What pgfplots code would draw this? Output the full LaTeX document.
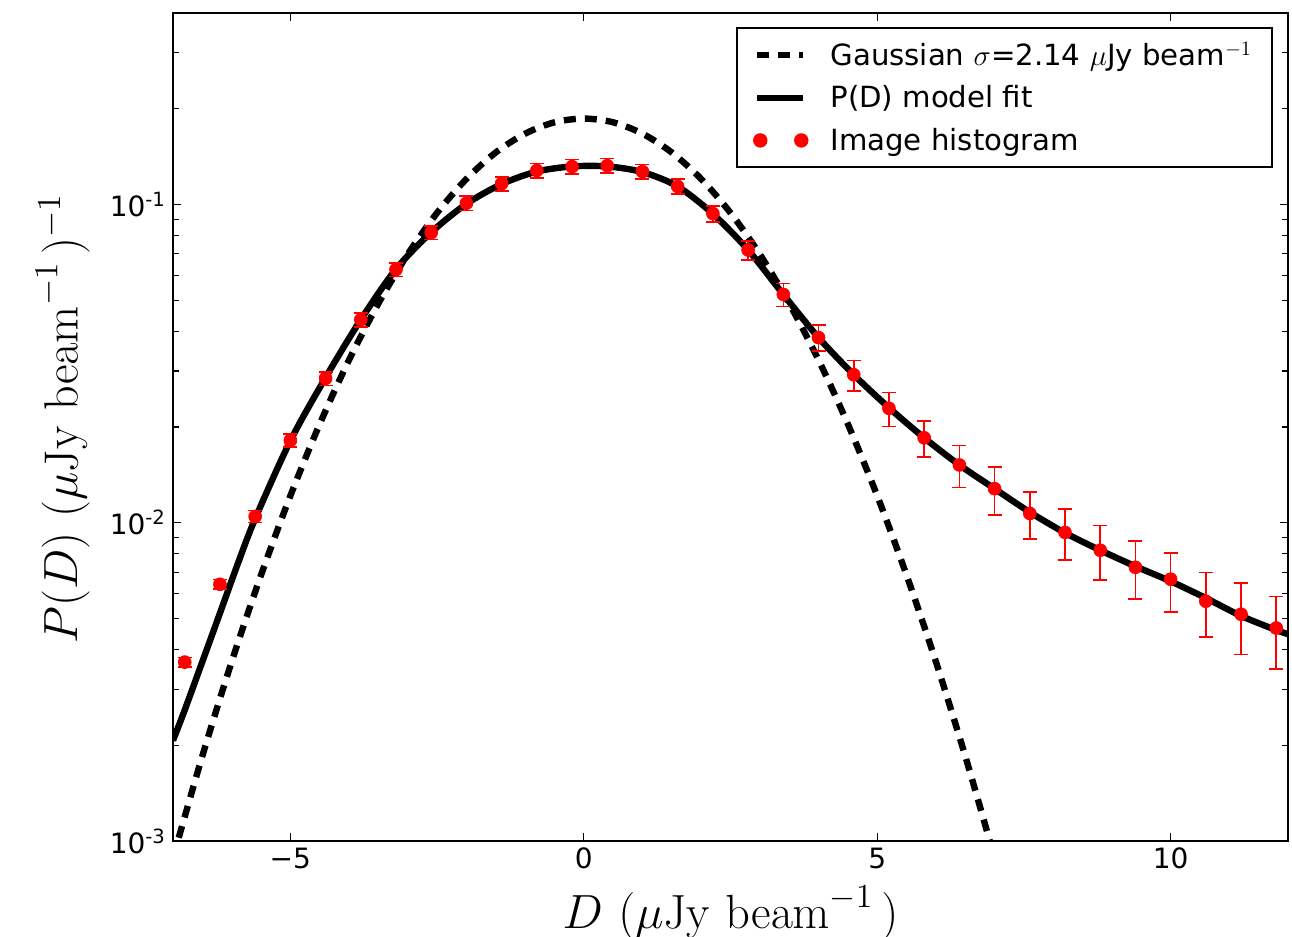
\RequirePackage{fix-cm}
\documentclass[border=0pt]{standalone}
\usepackage[no-math]{fontspec}
\setmainfont{DejaVu Sans}
\usepackage{pgfplots}
\pgfplotsset{compat=1.18}

% image histogram: D, P(D), error
\pgfplotstableread{
x     y        e
-6.8  0.00365  0.00012
-6.2  0.00641  0.00022
-5.6  0.01047  0.00046
-5.0  0.01815  0.00085
-4.4  0.02844  0.0014
-3.8  0.0435   0.0022
-3.2  0.0625   0.0031
-2.6  0.0817   0.0041
-2.0  0.1010   0.0053
-1.4  0.1164   0.0059
-0.8  0.1280   0.0066
-0.2  0.1316   0.0068
 0.4  0.1325   0.0069
 1.0  0.1270   0.0066
 1.6  0.1140   0.0062
 2.2  0.0937   0.0054
 2.8  0.0720   0.0050
 3.4  0.0522   0.0043
 4.0  0.0382   0.0036
 4.6  0.0292   0.0032
 5.2  0.0229   0.0028
 5.8  0.0185   0.0024
 6.4  0.0152   0.0023
 7.0  0.0128   0.0022
 7.6  0.0107   0.0018
 8.2  0.00933  0.0017
 8.8  0.0082   0.0016
 9.4  0.00725  0.0015
10.0  0.00665  0.0014
10.6  0.00567  0.0013
11.2  0.00516  0.0013
11.8  0.00467  0.0012
}\histo

\begin{document}
\begin{tikzpicture}
\useasboundingbox (-86.5pt,-48pt) rectangle (559.5pt,420.5pt);
\begin{axis}[
    scale only axis,
    width=557.5pt, height=414pt,
    ymode=log,
    xmin=-7, xmax=12, ymin=0.001, ymax=0.4,
    xtick={-5,0,5,10}, xticklabels={−5,0,5,10},
    ytick={0.001,0.01,0.1},
    yticklabels={10\textsuperscript{-3},10\textsuperscript{-2},10\textsuperscript{-1}},
    minor ytick={0.002,0.003,0.004,0.005,0.006,0.007,0.008,0.009,
                 0.02,0.03,0.04,0.05,0.06,0.07,0.08,0.09,0.2,0.3},
    tick align=inside,
    major tick length=4pt, minor tick length=3pt,
    every tick/.style={black, line width=0.6pt},
    axis line style={line width=1pt},
    tick label style={font=\fontsize{14}{17}\selectfont},
    label style={font=\fontsize{24}{28}\selectfont},
    xlabel={$D\ (\mu\mathrm{Jy\ beam}^{-1}\,)$},
    ylabel={$P(D)\ (\mu\mathrm{Jy\ beam}^{-1}\,)^{-1}$},
    xlabel style={at={(axis description cs:0.5,-0.087)}, anchor=center},
    ylabel style={at={(axis description cs:-0.099,0.51)}, anchor=center, rotate=0},
    legend cell align=left,
    legend style={at={(0.9865,0.983)}, anchor=north east, draw=black,
      line width=0.8pt, font=\fontsize{14.6}{17.5}\selectfont,
      inner xsep=8pt, inner ysep=5pt, row sep=4.5pt,
      /tikz/every odd column/.append style={column sep=9pt}},
    legend image code/.code={\draw[#1] (0pt,0pt) -- (23pt,0pt);},
]
% Gaussian sigma = 2.14
\addplot[black, line width=3.2pt, dash pattern=on 6pt off 4.5pt, smooth] coordinates {
 (-7.0,0.000885) (-6.5,0.00185) (-6.0,0.00366) (-5.5,0.00685) (-5.0,0.01216)
 (-4.5,0.02043) (-4.0,0.0325) (-3.5,0.0489) (-3.0,0.0698) (-2.5,0.0942)
 (-2.0,0.1204) (-1.5,0.1458) (-1.0,0.1671) (-0.5,0.1814) (0.0,0.1864)
 (0.5,0.1814) (1.0,0.1671) (1.5,0.1458) (2.0,0.1204) (2.5,0.0942)
 (3.0,0.0698) (3.5,0.0489) (4.0,0.0325) (4.5,0.02043) (5.0,0.01216)
 (5.5,0.00685) (6.0,0.00366) (6.5,0.00185) (7.0,0.000885) (7.2,0.00065)
};
\addlegendentry{Gaussian $\sigma$=2.14 $\mu$Jy beam$^{-1}$}
% P(D) model fit
\addplot[black, line width=3.2pt, smooth] coordinates {
 (-7.0,0.00207) (-6.8,0.00258) (-6.5,0.00366) (-6.2,0.0052) (-5.9,0.0074)
 (-5.6,0.0103) (-5.0,0.0181) (-4.4,0.0286) (-3.8,0.0435) (-3.2,0.0627)
 (-2.6,0.0818) (-2.0,0.1005) (-1.4,0.1160) (-0.8,0.1270) (-0.2,0.1318)
 (0.4,0.1318) (1.0,0.1265) (1.6,0.1140) (2.2,0.0935) (2.8,0.0720)
 (3.4,0.0522) (4.0,0.0382) (4.6,0.0292) (5.2,0.0230) (5.8,0.0185)
 (6.4,0.0152) (7.0,0.0128) (7.6,0.0108) (8.2,0.0093) (8.8,0.0082)
 (9.4,0.0073) (10.0,0.00655) (10.6,0.0058) (11.2,0.0051) (11.8,0.0046)
 (12.0,0.00447)
};
\addlegendentry{P(D) model fit}
% image histogram
\addplot[red, only marks, mark=*, mark size=3.2pt,
  mark options={fill=red, draw=red},
  legend image code/.code={
    \fill[red] (1.5pt,0pt) circle (3.2pt);
    \fill[red] (22pt,0pt) circle (3.2pt);},
  error bars/.cd, y dir=both, y explicit,
  error bar style={red, line width=0.8pt},
  error mark options={red, line width=0.8pt, mark size=3.5pt, rotate=90},
] table[x=x, y=y, y error=e] {\histo};
\addlegendentry{Image histogram}
\end{axis}
\end{tikzpicture}
\end{document}
